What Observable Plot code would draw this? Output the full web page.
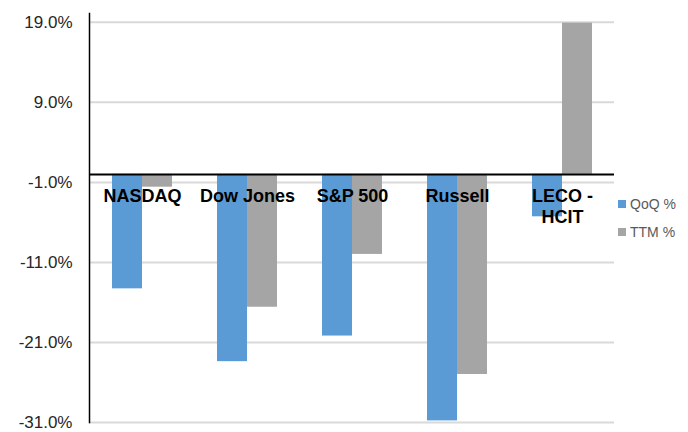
<!DOCTYPE html>
<html><head><meta charset="utf-8">
<script src="https://cdn.jsdelivr.net/npm/d3@7"></script>
<script src="https://cdn.jsdelivr.net/npm/@observablehq/plot@0.6"></script>
<style>
body{margin:0;background:#fff;font-family:Arial,"Liberation Sans",sans-serif;}
#wrap{position:relative;width:688px;height:432px;}
.leg{position:absolute;left:618px;font-size:14px;color:#595959;display:flex;align-items:center;height:16px;}
.sw{width:8px;height:8px;margin-right:4px;}
</style></head><body><div id="wrap"></div>
<script>
const categories = ["NASDAQ","Dow Jones","S&P 500","Russell","LECO -\nHCIT"];
const qoq = [-14.3,-23.4,-20.2,-30.8,-5.3];
const ttm = [-1.6,-16.6,-10.0,-25.0,18.9];
const yTicks = [19,9,-1,-11,-21,-31];
const seriesNames = ["QoQ %","TTM %"];
const colors = ["#5B9BD5","#A5A5A5"];

const qoqRows = categories.map((c,i)=>({cat:c, v:qoq[i]}));
const ttmRows = categories.map((c,i)=>({cat:c, v:ttm[i]}));

const chart = Plot.plot({
  width:688, height:432,
  marginLeft:89, marginRight:74, marginTop:13, marginBottom:10,
  style:{fontFamily:'Arial, "Liberation Sans", sans-serif', background:"white"},
  x:{domain:categories, paddingInner:0.4286, paddingOuter:0.2143, axis:null},
  y:{domain:[-31,20.1], axis:null},
  marks:[
    Plot.gridY(yTicks,{stroke:"#d9d9d9", strokeOpacity:1, strokeWidth:2}),
    Plot.barY(qoqRows,{x:"cat", y:"v", fill:colors[0], insetRight:30}),
    Plot.barY(ttmRows,{x:"cat", y:"v", fill:colors[1], insetLeft:30}),
    Plot.ruleY([0],{stroke:"#000", strokeWidth:2}),
    Plot.axisY({ticks:yTicks, tickFormat:d=>d.toFixed(1)+"%", tickSize:0, tickPadding:17, fontSize:17, color:"#262626", label:null}),
    Plot.frame({anchor:"left", stroke:"#000", strokeWidth:1.5}),
    Plot.text(categories,{x:d=>d, y:()=>0, dy:12.5, lineAnchor:"top", fontWeight:"bold", fontSize:18, lineHeight:1.17, fill:"#000"})
  ]
});
const wrap = document.getElementById("wrap");
wrap.appendChild(chart);
const legTops = [196, 224];
seriesNames.forEach((n,i)=>{
  const d = document.createElement("div");
  d.className = "leg";
  d.style.top = legTops[i]+"px";
  d.innerHTML = `<div class="sw" style="background:${colors[i]}"></div><span>${n}</span>`;
  wrap.appendChild(d);
});
</script></body></html>
